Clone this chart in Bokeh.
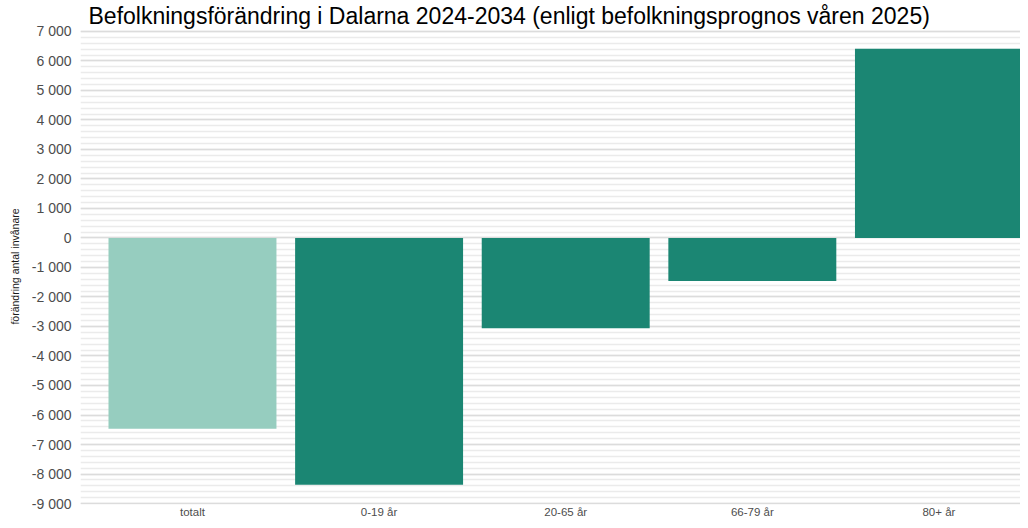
from bokeh.plotting import figure
from bokeh.models import Range1d, FixedTicker, SingleIntervalTicker, ColumnDataSource
from bokeh.embed import file_html
from bokeh.resources import INLINE

# ---- data ----
categories = ["totalt", "0-19 år", "20-65 år", "66-79 år", "80+ år"]
change = [-6470, -8360, -3060, -1460, 6410]
highlight_category = "totalt"
y_ticks = [-9000, -8000, -7000, -6000, -5000, -4000, -3000, -2000, -1000,
           0, 1000, 2000, 3000, 4000, 5000, 6000, 7000]
y_tick_labels = ["-9 000", "-8 000", "-7 000", "-6 000", "-5 000", "-4 000",
                 "-3 000", "-2 000", "-1 000", "0", "1 000", "2 000", "3 000",
                 "4 000", "5 000", "6 000", "7 000"]
title_text = "Befolkningsförändring i Dalarna 2024-2034 (enligt befolkningsprognos våren 2025)"
y_title = "förändring antal invånare"

# ---- style ----
LIGHT = "#96cdbf"
DARK = "#1b8673"
FONT = "Liberation Sans"

xs = list(range(len(categories)))
colors = [LIGHT if c == highlight_category else DARK for c in categories]
source = ColumnDataSource(dict(x=xs, top=change, color=colors, cat=categories))

p = figure(width=1020, height=520, output_backend="svg", toolbar_location=None,
           x_range=Range1d(-0.6, 4.437), y_range=Range1d(-9033.5, 7100),
           min_border_left=80, min_border_right=0, min_border_top=0,
           min_border_bottom=14)
p.background_fill_color = "white"
p.border_fill_color = "white"
p.outline_line_color = None

p.title.text = title_text
p.title.text_font = FONT
p.title.text_font_size = "23px"
p.title.text_font_style = "normal"
p.title.text_color = "#000000"
p.title.align = "left"
p.title.offset = 8
p.title.standoff = 0

p.vbar(x="x", top="top", bottom=0, width=0.9, fill_color="color",
       line_color=None, source=source)

# y axis
p.yaxis.ticker = SingleIntervalTicker(interval=1000, num_minor_ticks=5)
p.yaxis.major_label_overrides = {t: l for t, l in zip(y_ticks, y_tick_labels)}
p.yaxis.axis_line_color = None
p.yaxis.major_tick_line_color = None
p.yaxis.minor_tick_line_color = None
p.yaxis.major_tick_out = 0
p.yaxis.major_label_text_font = FONT
p.yaxis.major_label_text_font_size = "14px"
p.yaxis.major_label_text_color = "#4d4d4d"
p.yaxis.major_label_standoff = 5
p.yaxis.axis_label = y_title
p.yaxis.axis_label_text_font = FONT
p.yaxis.axis_label_text_font_size = "10.5px"
p.yaxis.axis_label_text_font_style = "normal"
p.yaxis.axis_label_text_color = "#1a1a1a"
p.yaxis.axis_label_standoff = 8

# x axis
p.xaxis.ticker = FixedTicker(ticks=xs)
p.xaxis.major_label_overrides = {i: c for i, c in zip(xs, categories)}
p.xaxis.axis_line_color = None
p.xaxis.major_tick_line_color = None
p.xaxis.minor_tick_line_color = None
p.xaxis.major_tick_out = 0
p.xaxis.major_label_text_font = FONT
p.xaxis.major_label_text_font_size = "11.5px"
p.xaxis.major_label_text_color = "#4d4d4d"
p.xaxis.major_label_standoff = 1

# grid
p.xgrid.grid_line_color = None
p.ygrid.grid_line_color = "#dcdcdc"
p.ygrid.grid_line_width = 1.6
p.ygrid.minor_grid_line_color = "#ebebeb"
p.ygrid.minor_grid_line_width = 1.3

open("out.html", "w").write(file_html(p, INLINE))
